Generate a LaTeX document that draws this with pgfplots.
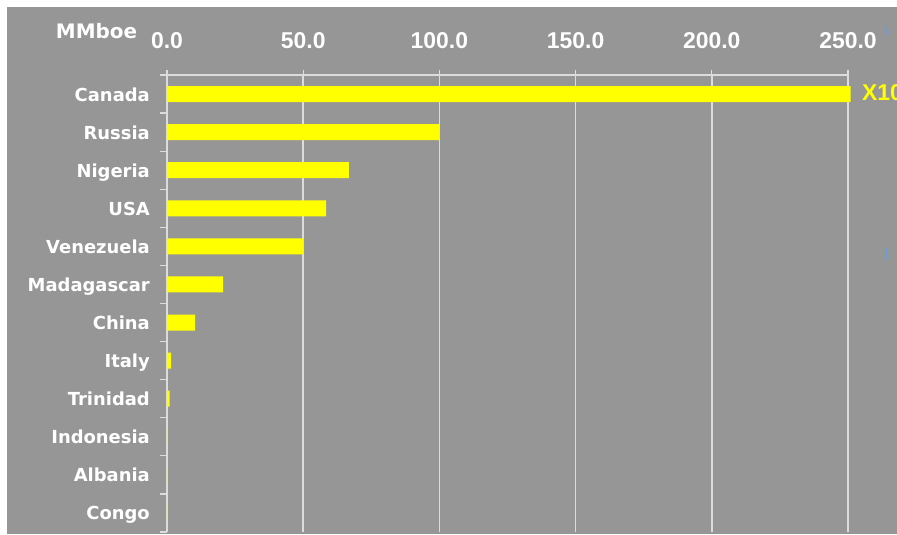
\documentclass[border=0pt]{standalone}
\usepackage{fontspec}
\setmainfont{DejaVu Sans}
\newfontfamily\numfont{Liberation Sans}
\usepackage{pgfplots}
\pgfplotsset{compat=1.18}
\definecolor{bg}{HTML}{969696}
\definecolor{gridc}{HTML}{DCDCDC}
\definecolor{bary}{HTML}{FFFF00}
\definecolor{bluemark}{HTML}{6E9BD4}

\begin{document}
\begin{tikzpicture}
\path[use as bounding box] (-167bp,-3bp) rectangle (730bp,532bp);
\clip (-167bp,-3bp) rectangle (730bp,532bp);
\fill[white] (-167bp,-3bp) rectangle (730bp,532bp);
\fill[bg] (-160bp,-2bp) rectangle (730bp,525bp);
\begin{axis}[
    scale only axis, width=681bp, height=457bp,
    xbar, bar width=16bp, bar shift=0pt,
    xmin=0, xmax=250, ymin=-0.5, ymax=11.5,
    clip=false,
    axis x line*=top, axis y line*=left,
    axis line style={gridc, line width=1.5bp},
    xtick={0,50,...,250},
    xmajorgrids,
    major grid style={gridc, line width=1.5bp},
    tick align=outside,
    major tick length=5bp, minor tick length=7bp,
    tick style={gridc, line width=1.2bp},
    /pgf/number format/fixed,
    /pgf/number format/fixed zerofill,
    /pgf/number format/precision=1,
    /pgf/number format/assume math mode=true,
    xticklabel style={font=\fontsize{23}{23}\selectfont\numfont\bfseries, text=white, inner sep=0pt},
    xticklabel shift=21bp,
    ytick={0,...,11},
    yticklabels={Congo,Albania,Indonesia,Trinidad,Italy,China,Madagascar,Venezuela,USA,Nigeria,Russia,Canada},
    minor ytick={-0.5,0.5,...,11.5},
    major y tick style={draw=none},
    yticklabel style={font=\fontsize{18}{18}\selectfont\bfseries, text=white, inner sep=0pt, anchor=base east, yshift=-7bp},
    yticklabel shift=12bp,
  ]
  \addplot[fill=bary, draw=none] coordinates {
    (251,11) (100,10) (66.8,9) (58.4,8) (50,7) (20.6,6)
    (10.3,5) (1.5,4) (1.0,3) (0,2) (0,1) (0,0)
  };
\end{axis}
\node[anchor=base, inner sep=0pt, text=white, font=\fontsize{20}{20}\selectfont\bfseries] at (-70.5bp,493bp) {MMboe};
\node[anchor=base west, inner sep=0pt, text=bary, font=\fontsize{23}{23}\selectfont\numfont\bfseries] at (695bp,431bp) {X10};
\draw[bluemark, line width=1.5bp] (719bp,505bp) -- (719bp,497bp);
\draw[bluemark, line width=1.5bp] (719bp,284bp) -- (719bp,272bp);
\end{tikzpicture}
\end{document}
